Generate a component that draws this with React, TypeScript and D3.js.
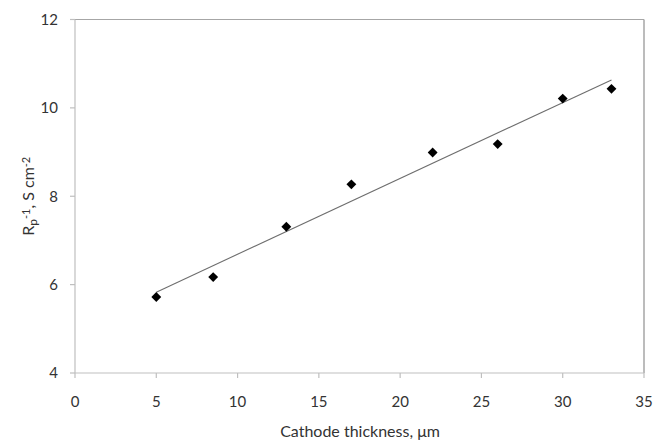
import React from "react";
import * as d3 from "d3";

// Cathode thickness (µm) and polarisation conductance Rp^-1 (S cm^-2)
const thickness = [5, 8.5, 13, 17, 22, 26, 30, 33];
const conductance = [5.72, 6.17, 7.31, 8.27, 8.99, 9.18, 10.21, 10.43];
const xTicks = [0, 5, 10, 15, 20, 25, 30, 35];
const yTicks = [4, 6, 8, 10, 12];

const W = 656;
const H = 444;
const margin = { left: 75, right: 12, top: 19.5, bottom: 71 };
const FONT = "Lato, 'Open Sans', sans-serif";
const TEXT = "#333";

export default function App() {
  const x = d3.scaleLinear().domain([0, 35]).range([margin.left, W - margin.right]);
  const y = d3.scaleLinear().domain([4, 12]).range([H - margin.bottom, margin.top]);

  // least-squares trendline
  const mx = d3.mean(thickness)!;
  const my = d3.mean(conductance)!;
  const sxy = d3.sum(thickness, (t, i) => (t - mx) * (conductance[i] - my));
  const sxx = d3.sum(thickness, (t) => (t - mx) ** 2);
  const slope = sxy / sxx;
  const icpt = my - slope * mx;
  const x0 = d3.min(thickness)!;
  const x1 = d3.max(thickness)!;
  const trend = d3.line<number>().x((t) => x(t)).y((t) => y(icpt + slope * t))([x0, x1]);

  const diamond = d3.symbol().type(d3.symbolDiamond2).size(62)();

  const [xl, xr] = x.range();
  const [yb, yt] = y.range();

  return (
    <svg width={W} height={H} style={{ position: "absolute", left: 0, top: 0, background: "#fff" }}>
      {/* frame */}
      <line x1={xl} x2={xr} y1={yt} y2={yt} stroke="#a6a6a6" strokeWidth={1.2} />
      <line x1={xr} x2={xr} y1={yt} y2={yb} stroke="#a6a6a6" strokeWidth={1.5} />
      <line x1={xl} x2={xl} y1={yt} y2={yb} stroke="#bfbfbf" strokeWidth={1.2} />
      <line x1={xl} x2={xr} y1={yb} y2={yb} stroke="#bfbfbf" strokeWidth={1.2} />

      {/* y ticks */}
      {yTicks.map((t) => (
        <g key={"y" + t}>
          <line x1={xl - 5} x2={xl} y1={y(t)} y2={y(t)} stroke="#bfbfbf" strokeWidth={1.2} />
          <text x={58} y={y(t)} dy="0.35em" textAnchor="end" fontFamily={FONT} fontSize={15} fill={TEXT}>
            {t}
          </text>
        </g>
      ))}

      {/* x ticks */}
      {xTicks.map((t) => (
        <g key={"x" + t}>
          <line x1={x(t)} x2={x(t)} y1={yb} y2={yb + 5} stroke="#bfbfbf" strokeWidth={1.2} />
          <text x={x(t)} y={yb + 29} dy="0.35em" textAnchor="middle" fontFamily={FONT} fontSize={15} fill={TEXT}>
            {t}
          </text>
        </g>
      ))}

      {/* trendline */}
      <path d={trend ?? ""} fill="none" stroke="#6e6e6e" strokeWidth={1.1} />

      {/* data points */}
      {thickness.map((t, i) => (
        <path key={"p" + i} d={diamond ?? ""} transform={`translate(${x(t)},${y(conductance[i])})`} fill="#000" />
      ))}

      {/* axis titles */}
      <text x={360} y={437} textAnchor="middle" fontFamily={FONT} fontSize={16} fill={TEXT}>
        Cathode thickness, μm
      </text>
      <text
        transform={`translate(34,${(yt + yb) / 2}) rotate(-90)`}
        textAnchor="middle"
        fontFamily={FONT}
        fontSize={16}
        fill={TEXT}
      >
        R<tspan baselineShift="-25%" fontSize={12}>p</tspan>
        <tspan baselineShift="40%" fontSize={11}>-1</tspan>
        <tspan>, S cm</tspan>
        <tspan baselineShift="40%" fontSize={11}>-2</tspan>
      </text>
    </svg>
  );
}
